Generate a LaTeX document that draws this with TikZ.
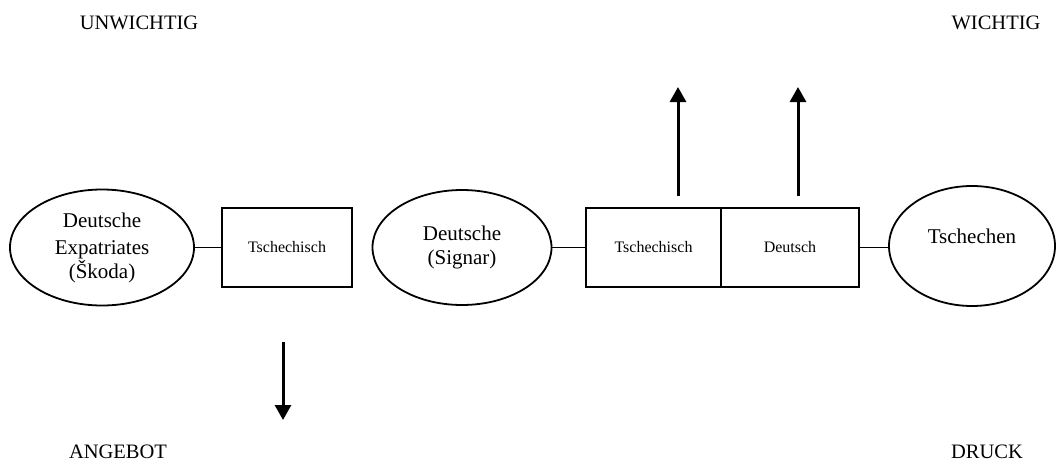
\documentclass[tikz,border=0pt]{standalone}
\usepackage{fontspec}
\setmainfont{Liberation Serif}
\usetikzlibrary{shapes.geometric,arrows.meta}

\tikzset{
  party/.style={draw,ellipse,line width=1.8pt,inner sep=0pt,align=center,
    font=\fontsize{21}{24}\selectfont},
  langbox/.style={draw,rectangle,line width=1.8pt,inner sep=0pt,minimum height=79pt,
    font=\fontsize{16}{19}\selectfont},
  corner/.style={anchor=base,font=\fontsize{20.5}{22}\selectfont},
  push/.style={line width=3pt,-{Triangle[width=16pt,length=15pt]}}
}

\begin{document}
\begin{tikzpicture}[x=1pt,y=-1pt]
  \useasboundingbox (0,0) rectangle (1058,463);
  % groups
  \node[party,minimum width=184pt,minimum height=116pt] (expat) at (102,247.5) {Deutsche\\[3pt]Expatriates\\(Škoda)};
  \node[party,minimum width=179pt,minimum height=115pt] (signar) at (462,247.5) {Deutsche\\(Signar)};
  \node[party,minimum width=166pt,minimum height=120pt] (czech) at (972,246) {Tschechen\\[-5pt]};
  % languages
  \node[langbox,minimum width=130pt] (lang1) at (287,247.5) {Tschechisch};
  \node[langbox,minimum width=135pt] (lang2) at (653.5,247.5) {Tschechisch};
  \node[langbox,minimum width=138pt] (lang3) at (790,247.5) {Deutsch};
  \draw[line width=1.8pt] (expat) -- (lang1);
  \draw[line width=1.8pt] (signar) -- (lang2);
  \draw[line width=1.8pt] (lang3.east) -- (lang3.east -| czech.west);
  % corners
  \node[corner] (unw) at (139,29) {UNWICHTIG};
  \node[corner] (wich) at (996,29) {WICHTIG};
  \node[corner] (ange) at (118,458) {ANGEBOT};
  \node[corner] (druck) at (987,458) {DRUCK};
  % arrows
  \coordinate (downs) at (283,342);
  \coordinate (downe) at (283,420);
  \coordinate (up1s) at (678,196);
  \coordinate (up1e) at (678,87);
  \coordinate (up2s) at (798,196);
  \coordinate (up2e) at (798,87);
  \draw[push] (downs) -- (downe);
  \draw[push] (up1s) -- (up1e);
  \draw[push] (up2s) -- (up2e);
\end{tikzpicture}
\end{document}
